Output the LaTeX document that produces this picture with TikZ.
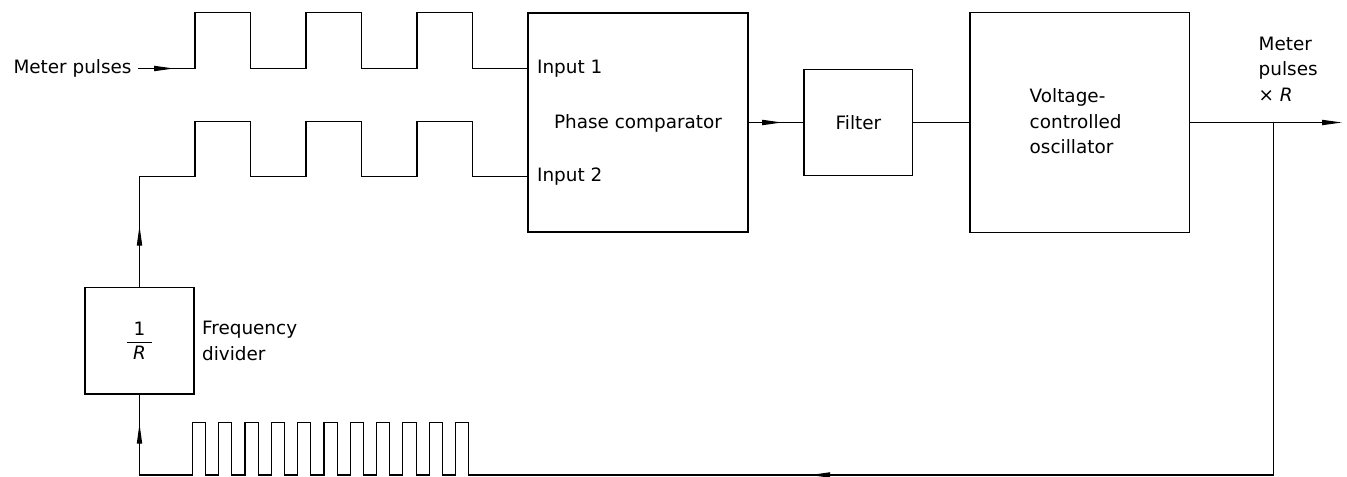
\documentclass[tikz,border=0pt]{standalone}
\usepackage{fontspec}
\setmainfont{DejaVu Sans}
\usetikzlibrary{arrows.meta,decorations.markings}

\begin{document}
\begin{tikzpicture}[
  x=0.5pt, y=-0.5pt,
  every node/.style={font=\fontsize{9.2}{12.7}\selectfont, inner sep=0pt},
  block/.style={draw, line width=0.75pt, rectangle},
  wire/.style={line width=0.55pt},
  ptip/.tip={Triangle[length=10pt,width=2.6pt]},
  midarrow/.style={postaction={decorate},
    decoration={markings, mark=at position #1 with {\arrow{ptip}}}}
]
\useasboundingbox (0,0) rectangle (1347,476);

% blocks
\node[block, minimum width=110.2pt, minimum height=109.5pt] (pc) at (638,122.5) {};
\node at (638,123) {Phase comparator};
\node[anchor=west] (in1) at (536.7,68.5) {Input 1};
\node[anchor=west] (in2) at (536.7,176.7) {Input 2};

\node[block, minimum width=54.3pt, minimum height=53pt] (flt) at (858.4,122.5) {Filter};

\node[block, minimum width=109.7pt, minimum height=109.8pt] (vco) at (1079.7,122.5) {};
\node[anchor=west, align=left] (vcotxt) at (1029.3,121.5) {Voltage-\\controlled\\oscillator};

\node[block, minimum width=54.5pt, minimum height=53.2pt] (div) at (139.5,340.9)
  {$\displaystyle\frac{\mbox{1}}{\mbox{\kern3.2pt\itshape R\kern3.2pt}}$};
\node[anchor=north west, align=left] (divtxt) at (201.7,321) {Frequency\\divider};

% labels on the signal lines
\node[anchor=east, inner xsep=3.5pt] (mp) at (139,68.5) {Meter pulses};
\node[anchor=north west, align=left] (outtxt) at (1258.3,36.5) {Meter\\pulses\\× \textit{R}};

% coordinates of the signal paths
\coordinate (w1) at (195,68.5);
\coordinate (w2) at (139.5,176.7);
\coordinate (out) at (1342,122.5);
\coordinate (br) at (1273.3,122.5);
\coordinate (fb) at (1273.3,475);
\coordinate (pend) at (469,475);
\coordinate (bl) at (139.5,475);

\begin{scope}[wire, line cap=rect]
% input 1: meter pulses
\draw[midarrow=0.625] (mp.east) -- (w1);
\draw (w1) -- ++(0,-55.8) -- ++(55.5,0) -- ++(0,55.8) -- ++(55.5,0)
           -- ++(0,-55.8) -- ++(55.5,0) -- ++(0,55.8) -- ++(55.5,0)
           -- ++(0,-55.8) -- ++(55.5,0) -- ++(0,55.8) -- (pc.west |- w1);

% input 2: divided pulses
\draw[midarrow=0.556] (div.north) -- (w2);
\draw (w2) -- (195,176.7)
           -- ++(0,-55) -- ++(55.5,0) -- ++(0,55) -- ++(55.5,0)
           -- ++(0,-55) -- ++(55.5,0) -- ++(0,55) -- ++(55.5,0)
           -- ++(0,-55) -- ++(55.5,0) -- ++(0,55) -- (pc.west |- w2);

% forward chain
\draw[midarrow=0.61] (pc.east) -- (flt.west);
\draw (flt.east) -- (vco.west);
\draw[-{ptip}] (vco.east) -- (out);

% feedback loop
\draw (br) -- (fb);
\draw[midarrow=0.576] (fb) -- (pend);
\draw (bl) \foreach \k in {0,...,10} {
    -- (192.3+\k*26.33,475) -- ++(0,-52.3) -- ++(13.3,0) -- ++(0,52.3) } -- (pend);
\draw[midarrow=0.64] (bl) -- (div.south);
\end{scope}
\end{tikzpicture}
\end{document}
